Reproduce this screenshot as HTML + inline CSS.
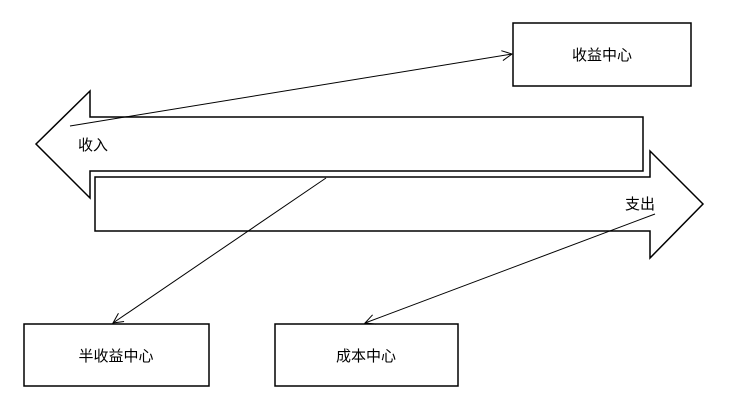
<!DOCTYPE html>
<html><head><meta charset="utf-8"><style>
html,body{margin:0;padding:0;background:#fff;width:741px;height:418px;overflow:hidden}
text{font-family:"Liberation Sans","Noto Sans CJK SC",sans-serif;font-size:15px;fill:#000}
</style></head><body>
<svg width="741" height="418" viewBox="0 0 741 418" xmlns="http://www.w3.org/2000/svg">
<defs><marker id="a" markerWidth="12" markerHeight="12" refX="11" refY="6" orient="auto" markerUnits="userSpaceOnUse"><path d="M1,1 L11,6 L1,11" fill="none" stroke="#000" stroke-width="1"/></marker></defs>
<g fill="#fff" stroke="#000" stroke-width="1.5">
<polygon points="36,144 90,91 90,117 643,117 643,171 90,171 90,198"/>
<polygon points="703,204 650,151 650,177 95,177 95,231 650,231 650,258"/>
<rect x="513" y="23" width="178" height="63"/>
<rect x="24" y="324" width="185" height="62"/>
<rect x="275" y="324" width="183" height="62"/>
</g>
<g stroke="#000" stroke-width="1" fill="none">
<line x1="70" y1="126" x2="512" y2="54" marker-end="url(#a)"/>
<line x1="326" y1="178" x2="113" y2="323" marker-end="url(#a)"/>
<line x1="655" y1="214" x2="365" y2="323" marker-end="url(#a)"/>
</g>
<text x="78" y="150">收入</text>
<text x="625" y="209">支出</text>
<text x="602" y="60" text-anchor="middle">收益中心</text>
<text x="116" y="361" text-anchor="middle">半收益中心</text>
<text x="366" y="361" text-anchor="middle">成本中心</text>
</svg>
</body></html>
